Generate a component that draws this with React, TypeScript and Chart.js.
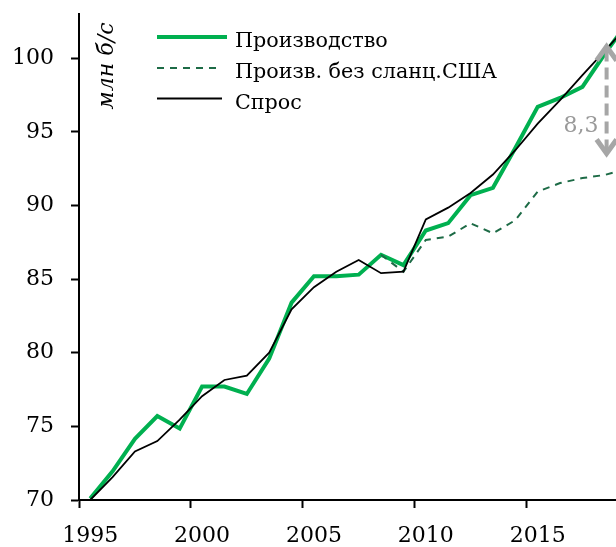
import React, { useEffect, useRef } from 'react';
import { Chart, registerables } from 'chart.js';

Chart.register(...registerables);

// ---- data ----
const years = [
  1995.5, 1996.5, 1997.5, 1998.5, 1999.5, 2000.5, 2001.5, 2002.5, 2003.5, 2004.5,
  2005.5, 2006.5, 2007.5, 2008.5, 2009.5, 2010.5, 2011.5, 2012.5, 2013.5, 2014.5,
  2015.5, 2016.5, 2017.5, 2018.5, 2019.5,
];
const production = [
  70.1, 71.95, 74.15, 75.7, 74.85, 77.7, 77.7, 77.2, 79.6, 83.4,
  85.2, 85.2, 85.3, 86.65, 85.95, 88.3, 88.8, 90.7, 91.2, 93.9,
  96.7, 97.3, 98.05, 100.3, 102.4,
];
const productionExShale = [
  null, null, null, null, null, null, null, null, null, null,
  null, null, null, 86.65, 85.5, 87.66, 87.88, 88.79, 88.11, 89.0,
  90.94, 91.52, 91.86, 92.07, 92.5,
];
const demand = [
  70.0, 71.55, 73.3, 74.0, 75.45, 77.05, 78.15, 78.45, 80.0, 82.95,
  84.45, 85.5, 86.3, 85.4, 85.5, 89.05, 89.85, 90.85, 92.1, 93.75,
  95.55, 97.15, 98.85, 100.5, 102.2,
];
const seriesLabels = ['Производство', 'Произв. без сланц.США', 'Спрос'];
const yTickValues = [70, 75, 80, 85, 90, 95, 100];
const xTickValues = [1995, 2000, 2005, 2010, 2015];
const yAxisTitle = 'млн б/с';
const gapLabel = '8,3';
const gapArrow = { x: 2018.58, top: 101.0, bottom: 93.32, labelY: 95.0 };

const GREEN = '#00b050';
const DARK_GREEN = '#1d6b46';
const GREY = '#a6a6a6';
const FONT = '"DejaVu Serif", serif';

export default function App() {
  const canvasRef = useRef<HTMLCanvasElement | null>(null);

  useEffect(() => {
    const canvas = canvasRef.current;
    if (!canvas) return;

    const overlay = {
      id: 'overlay',
      afterDatasetsDraw(chart: any) {
        const { ctx, scales } = chart;
        const x = scales.x;
        const y = scales.y;
        const ax = x.getPixelForValue(gapArrow.x);
        const yTop = y.getPixelForValue(gapArrow.top);
        const yBot = y.getPixelForValue(gapArrow.bottom);
        ctx.save();
        ctx.strokeStyle = GREY;
        ctx.lineWidth = 4;
        ctx.setLineDash([12, 6]);
        ctx.beginPath();
        ctx.moveTo(ax, yTop + 6);
        ctx.lineTo(ax, yBot - 6);
        ctx.stroke();
        ctx.setLineDash([]);
        ctx.lineWidth = 5;
        ctx.lineJoin = 'miter';
        ctx.beginPath();
        ctx.moveTo(ax - 10, yTop + 17);
        ctx.lineTo(ax, yTop + 3);
        ctx.lineTo(ax + 10, yTop + 17);
        ctx.stroke();
        ctx.beginPath();
        ctx.moveTo(ax - 10, yBot - 17);
        ctx.lineTo(ax, yBot - 3);
        ctx.lineTo(ax + 10, yBot - 17);
        ctx.stroke();
        ctx.fillStyle = '#9a9a9a';
        ctx.font = `22px ${FONT}`;
        ctx.textAlign = 'right';
        ctx.textBaseline = 'alphabetic';
        ctx.fillText(gapLabel, ax - 8, y.getPixelForValue(gapArrow.labelY));
        ctx.restore();
      },
      afterDraw(chart: any) {
        const { ctx, chartArea } = chart;
        ctx.save();
        // y axis title (rotated, inside plot)
        ctx.translate(chartArea.left + 34, chartArea.top + 52);
        ctx.rotate(-Math.PI / 2);
        ctx.fillStyle = '#000';
        ctx.font = `italic 22px ${FONT}`;
        ctx.textAlign = 'center';
        ctx.textBaseline = 'alphabetic';
        ctx.fillText(yAxisTitle, 0, 0);
        ctx.restore();

        // legend
        const sx0 = chartArea.left + 78;
        const sx1 = chartArea.left + 148;
        const tx = chartArea.left + 156;
        const baselines = [chartArea.top + 33, chartArea.top + 64, chartArea.top + 94.5];
        const styles = [
          { color: GREEN, width: 4, dash: [] as number[] },
          { color: DARK_GREEN, width: 2, dash: [7, 6] },
          { color: '#000', width: 2, dash: [] as number[] },
        ];
        ctx.save();
        seriesLabels.forEach((lbl, i) => {
          const s = styles[i];
          const ly = baselines[i] - 10;
          ctx.strokeStyle = s.color;
          ctx.lineWidth = s.width;
          ctx.setLineDash(s.dash);
          ctx.beginPath();
          ctx.moveTo(sx0, ly);
          ctx.lineTo(i === 0 ? sx1 : sx1 - 5, ly);
          ctx.stroke();
          ctx.setLineDash([]);
          ctx.fillStyle = '#000';
          ctx.font = `20.7px ${FONT}`;
          ctx.textAlign = 'left';
          ctx.textBaseline = 'alphabetic';
          ctx.fillText(lbl, tx, baselines[i]);
        });
        ctx.restore();
      },
    };

    const noPad = (scale: any) => {
      scale.paddingTop = 0;
      scale.paddingBottom = 0;
      scale.paddingLeft = 0;
      scale.paddingRight = 0;
    };

    const chart = new Chart(canvas, {
      type: 'line',
      data: {
        datasets: [
          {
            label: seriesLabels[0],
            data: years.map((yr, i) => ({ x: yr, y: production[i] })),
            borderColor: GREEN,
            borderWidth: 4,
            pointRadius: 0,
            tension: 0,
            order: 3,
          },
          {
            label: seriesLabels[1],
            data: years.map((yr, i) => ({ x: yr, y: productionExShale[i] as any })),
            borderColor: DARK_GREEN,
            borderWidth: 2,
            borderDash: [7, 6],
            pointRadius: 0,
            tension: 0,
            spanGaps: false,
            order: 2,
          },
          {
            label: seriesLabels[2],
            data: years.map((yr, i) => ({ x: yr, y: demand[i] })),
            borderColor: '#000',
            borderWidth: 1.8,
            pointRadius: 0,
            tension: 0,
            order: 1,
          },
        ],
      },
      options: {
        responsive: false,
        animation: false,
        devicePixelRatio: 1,
        layout: { padding: { top: 14, right: 0, left: 0, bottom: 0 } },
        plugins: { legend: { display: false }, tooltip: { enabled: false } },
        scales: {
          // tick marks at the year boundaries
          x: {
            type: 'linear',
            position: 'bottom',
            min: 1995,
            max: 2019,
            afterBuildTicks: (scale: any) => {
              scale.ticks = xTickValues.map((v) => ({ value: v }));
            },
            afterFit: (scale: any) => {
              scale.height = 8;
              noPad(scale);
            },
            ticks: { display: false },
            grid: {
              display: true,
              drawOnChartArea: false,
              drawTicks: true,
              tickLength: 8,
              tickWidth: 2,
              tickColor: '#000',
            },
            border: { display: true, color: '#000', width: 2 },
          },
          // year labels centred on each year
          xl: {
            type: 'linear',
            position: 'bottom',
            min: 1995,
            max: 2019,
            afterBuildTicks: (scale: any) => {
              scale.ticks = xTickValues.map((v) => ({ value: v + 0.5 }));
            },
            afterFit: (scale: any) => {
              scale.height = 39;
              noPad(scale);
            },
            ticks: {
              color: '#000',
              font: { family: FONT, size: 22 },
              padding: 15,
              maxRotation: 0,
              callback: (v: any) => String(Math.floor(Number(v))),
            },
            grid: { display: false, drawTicks: false },
            border: { display: false },
          },
          y: {
            type: 'linear',
            min: 70,
            max: 103,
            afterBuildTicks: (scale: any) => {
              scale.ticks = yTickValues.map((v) => ({ value: v }));
            },
            afterFit: (scale: any) => {
              scale.width = 79;
              noPad(scale);
            },
            ticks: {
              color: '#000',
              font: { family: FONT, size: 22 },
              padding: 17,
              callback: (v: any) => String(v),
            },
            grid: {
              display: true,
              drawOnChartArea: false,
              drawTicks: true,
              tickLength: 8,
              tickWidth: 2,
              tickColor: '#000',
            },
            border: { display: true, color: '#000', width: 2 },
          },
        },
      },
      plugins: [overlay],
    });

    return () => chart.destroy();
  }, []);

  return (
    <div style={{ position: 'absolute', left: 0, top: 0, width: 616, height: 547, background: '#fff' }}>
      <canvas ref={canvasRef} width={616} height={547} style={{ display: 'block' }} />
    </div>
  );
}
